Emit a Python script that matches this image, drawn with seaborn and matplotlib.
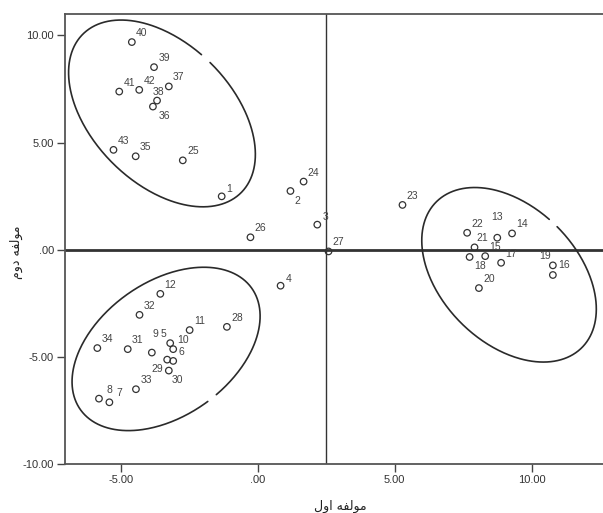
import numpy as np
import pandas as pd
import matplotlib
matplotlib.use("Agg")
import matplotlib.pyplot as plt
import seaborn as sns

# ---- data ----
case_ids = list(range(1, 44))
comp1 = [-1.31, 1.20, 2.18, 0.84, -3.19, -3.08, -5.41, -5.79, -3.86, -3.08,
         -2.48, -3.55, 8.75, 9.29, 8.31, 10.78, 8.89, 7.74, 10.78, 8.08,
         7.92, 7.65, 5.29, 1.68, -2.73, -0.26, 2.59, -1.12, -3.30, -3.24,
         -4.74, -4.31, -4.44, -5.85, -4.45, -3.82, -3.24, -3.67, -3.78, -4.59,
         -5.05, -4.32, -5.26]
comp2 = [2.49, 2.74, 1.17, -1.68, -4.36, -5.19, -7.12, -6.95, -4.80, -4.64,
         -3.75, -2.06, 0.56, 0.76, -0.30, -1.18, -0.61, -0.34, -0.73, -1.79,
         0.11, 0.79, 2.09, 3.18, 4.17, 0.58, -0.08, -3.60, -5.13, -5.64,
         -4.64, -3.04, -6.51, -4.59, 4.36, 6.68, 7.62, 6.96, 8.52, 9.69,
         7.38, 7.46, 4.66]
x_ticks = [-5, 0, 5, 10]
x_ticklabels = ["-5.00", ".00", "5.00", "10.00"]
y_ticks = [-10, -5, 0, 5, 10]
y_ticklabels = ["-10.00", "-5.00", ".00", "5.00", "10.00"]
vline_x = 2.49
hline_y = 0.0

# Persian axis titles (presentation forms, visual order)
xlabel_txt = "\uFEDD\uFEED\uFE8D \uFEEA\uFED4\uFEDF\uFEEE\uFEE3"   # مولفه اول
ylabel_txt = "\uFEE1\uFEED\uFEA9 \uFEEA\uFED4\uFEDF\uFEEE\uFEE3"   # مولفه دوم

# label offsets in pixels (dx, dy up) - style only
default_off = (10, 9)
label_off = {1: (7, 7), 2: (7, -10), 3: (8, 8), 4: (8, 7), 5: (-7, 9), 6: (8, 9),
             9: (4, 19), 10: (10, 9), 13: (0, 21), 16: (11, 10), 18: (10, -9),
             19: (-8, 9), 21: (8, 9), 29: (-10, -9), 30: (9, -9), 36: (11, -9),
             38: (1, 9)}

df = pd.DataFrame({"id": case_ids, "c1": comp1, "c2": comp2})

sns.set_style("white")
plt.rcParams['font.family'] = ['Liberation Sans', 'DejaVu Sans']

W, H, DPI = 603, 513, 100
fig = plt.figure(figsize=(W / DPI, H / DPI), dpi=DPI)
ax = fig.add_axes([65 / W, (513 - 464) / H, 538 / W, 450 / H])
ax.set_xlim(-7.03, 12.61)
ax.set_ylim(-10, 11)

ax.axvline(vline_x, color="#333333", lw=1.0, zorder=1)
ax.axhline(hline_y, color="#333333", lw=2.0, zorder=1)

sns.scatterplot(data=df, x="c1", y="c2", ax=ax, marker="o", s=22,
                facecolors="none", edgecolor="#333333", linewidth=0.9,
                zorder=3, legend=False)

pt = 72.0 / DPI
for i, xv, yv in zip(case_ids, comp1, comp2):
    dx, dy = label_off.get(i, default_off)
    ax.annotate(str(i), (xv, yv), xytext=(dx * pt, dy * pt),
                textcoords="offset points", ha="center", va="center",
                fontsize=7.5, color="#444444", zorder=4)

# hand-drawn ellipses (display-space shapes), with small gaps
fig.canvas.draw()
inv = ax.transData.inverted()
ellipses = [
    # center (data), a px, b px, angle deg, gap (t0, t1)
    ((-3.49, 6.36), 112, 70, -45, (91, 97)),
    ((-3.34, -4.63), 105, 67, 35.3, (272, 278)),
    ((9.18, -1.17), 103, 68, -45, (90, 96)),
]
for (cx, cy), a, b, ang, (g0, g1) in ellipses:
    cdisp = ax.transData.transform((cx, cy))
    t = np.deg2rad(np.linspace(g1, g0 + 360, 400))
    phi = np.deg2rad(ang)
    u = np.array([np.cos(phi), np.sin(phi)])
    v = np.array([-np.sin(phi), np.cos(phi)])
    pts = cdisp[None, :] + a * np.cos(t)[:, None] * u + b * np.sin(t)[:, None] * v
    dpts = inv.transform(pts)
    ax.plot(dpts[:, 0], dpts[:, 1], color="#2a2a2a", lw=1.2, zorder=2)

ax.set_xticks(x_ticks)
ax.set_xticklabels(x_ticklabels)
ax.set_yticks(y_ticks)
ax.set_yticklabels(y_ticklabels)
ax.tick_params(axis="both", which="major", direction="out", length=6, width=1.0,
               color="#444444", labelsize=8, labelcolor="#333333", pad=2,
               bottom=True, left=True)

for side in ["left", "bottom", "top"]:
    ax.spines[side].set_color("#555555")
    ax.spines[side].set_linewidth(1.3)
ax.spines["right"].set_visible(False)

ax.set_xlabel(xlabel_txt, fontsize=9, color="#222222", family="DejaVu Sans")
ax.set_ylabel(ylabel_txt, fontsize=9, color="#222222", family="DejaVu Sans")
ax.xaxis.set_label_coords(0.511, -0.08)
ax.yaxis.set_label_coords(-0.078, 0.471)

fig.savefig("out.png", dpi=DPI)
